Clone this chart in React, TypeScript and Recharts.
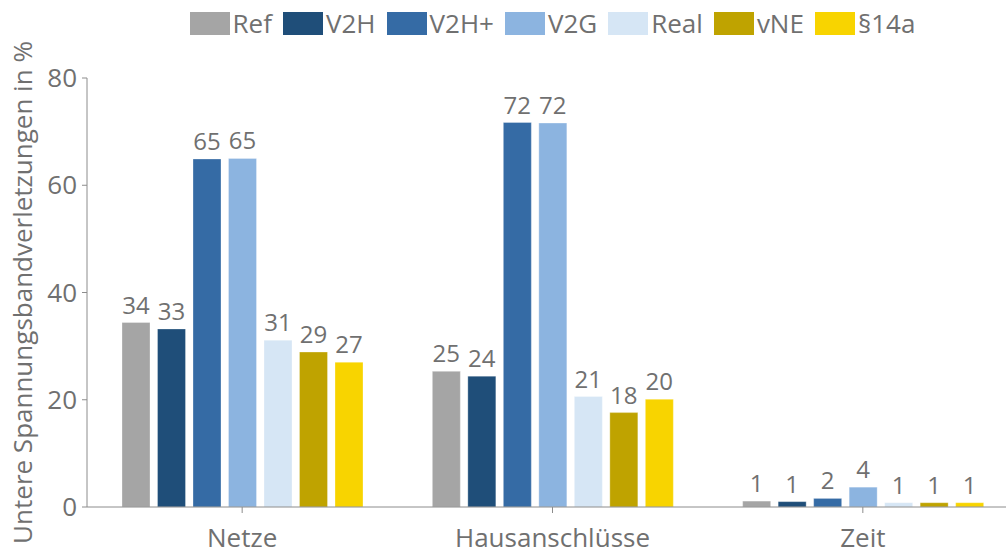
import React from 'react';
import { BarChart, Bar, XAxis, YAxis, Legend, LabelList } from 'recharts';

const categories = ['Netze', 'Hausanschlüsse', 'Zeit'];
const seriesNames = ['Ref', 'V2H', 'V2H+', 'V2G', 'Real', 'vNE', '§14a'];
const seriesColors = ['#a5a5a5', '#1f4e79', '#356ba5', '#8cb4e0', '#d6e6f5', '#bfa300', '#f8d400'];

const refValues = [34.4, 25.3, 1.1];
const v2hValues = [33.2, 24.4, 1.0];
const v2hPlusValues = [64.9, 71.7, 1.6];
const v2gValues = [65.0, 71.6, 3.7];
const realValues = [31.1, 20.6, 0.8];
const vneValues = [28.9, 17.6, 0.8];
const p14aValues = [27.0, 20.1, 0.8];

const yTicks = [0, 20, 40, 60, 80];
const yLabel = 'Untere Spannungsbandverletzungen in %';

const seriesValues = [refValues, v2hValues, v2hPlusValues, v2gValues, realValues, vneValues, p14aValues];
const keys = ['s0', 's1', 's2', 's3', 's4', 's5', 's6'];

const data = categories.map((c, i) => {
  const row: Record<string, any> = { name: c };
  keys.forEach((k, j) => {
    row[k] = seriesValues[j][i];
  });
  return row;
});

const FONT = '"Open Sans", sans-serif';
const TEXT = '#707070';
const AXIS = '#8c8c8c';

const LegendContent = () => (
  <div
    style={{
      height: 78,
      boxSizing: 'border-box',
      paddingTop: 12,
      display: 'flex',
      justifyContent: 'center',
      fontFamily: FONT,
      fontSize: 26,
      color: TEXT,
    }}
  >
    {seriesNames.map((n, i) => (
      <div key={n} style={{ display: 'flex', alignItems: 'flex-start', marginRight: i < seriesNames.length - 1 ? 11 : 0 }}>
        <div style={{ width: 40, height: 23, background: seriesColors[i], marginRight: 3 }} />
        <span style={{ lineHeight: '23px' }}>{n}</span>
      </div>
    ))}
  </div>
);

const YLabel = (props: any) => {
  const vb = props.viewBox || {};
  const cy = (vb.y ?? 0) + (vb.height ?? 0) / 2;
  return (
    <text
      x={22}
      y={cy}
      transform={`rotate(-90, 22, ${cy})`}
      textAnchor="middle"
      dominantBaseline="central"
      fill={TEXT}
      fontFamily={FONT}
      fontSize={26}
    >
      {yLabel}
    </text>
  );
};

export default function App() {
  return (
    <div style={{ position: 'absolute', left: 0, top: 0, width: 1006, height: 553, overflow: 'hidden', background: '#fff' }}>
      <BarChart
        width={1018}
        height={553}
        data={data}
        margin={{ top: 0, right: 0, bottom: 0, left: 0 }}
        barSize={28}
        barGap={7.5}
      >
        <Legend verticalAlign="top" align="center" content={<LegendContent />} wrapperStyle={{ top: 0, left: 87, width: 931 }} />
        <XAxis
          dataKey="name"
          height={46}
          tickSize={6}
          tickMargin={16}
          stroke={AXIS}
          tick={{ fill: TEXT, fontFamily: FONT, fontSize: 26 }}
          axisLine={{ stroke: AXIS }}
          tickLine={{ stroke: AXIS }}
        />
        <YAxis
          width={87}
          domain={[0, 80]}
          ticks={yTicks}
          tickSize={5}
          tickMargin={5}
          interval={0}
          stroke={AXIS}
          tick={{ fill: TEXT, fontFamily: FONT, fontSize: 26 }}
          axisLine={{ stroke: AXIS }}
          tickLine={{ stroke: AXIS }}
          label={<YLabel />}
        />
        {keys.map((k, j) => (
          <Bar
            key={k}
            dataKey={k}
            name={seriesNames[j]}
            fill={seriesColors[j]}
            stroke="#ffffff"
            strokeOpacity={0.3}
            strokeWidth={1}
            isAnimationActive={false}
          >
            <LabelList
              dataKey={k}
              position="top"
              offset={9}
              formatter={(v: any) => Math.round(Number(v))}
              fill={TEXT}
              fontFamily={FONT}
              fontSize={24}
            />
          </Bar>
        ))}
      </BarChart>
    </div>
  );
}
